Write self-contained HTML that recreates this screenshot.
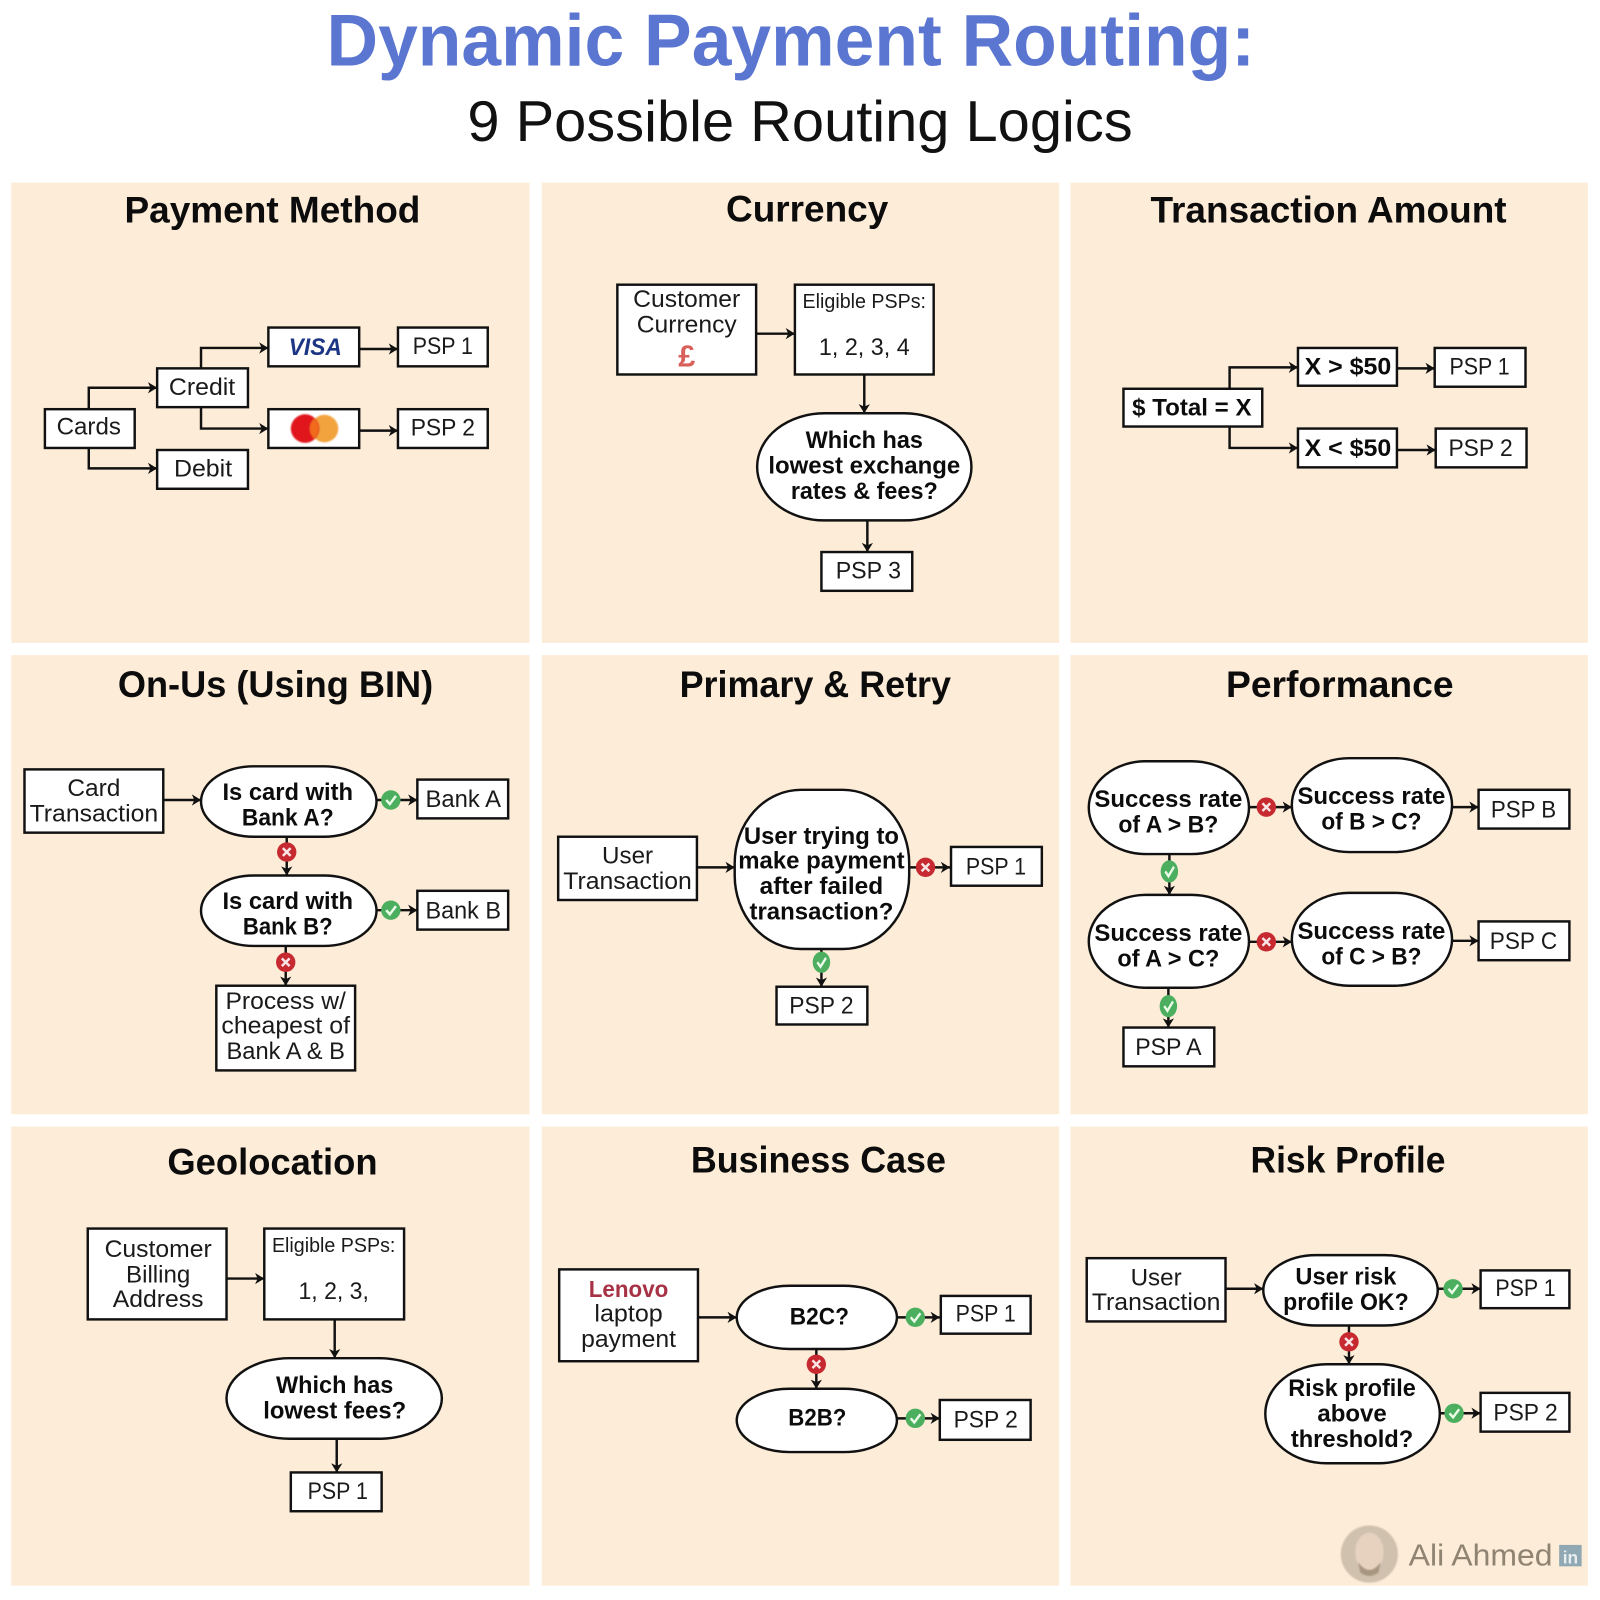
<!DOCTYPE html>
<html lang="en">
<head>
<meta charset="utf-8">
<title>Dynamic Payment Routing</title>
<style>
html,body{margin:0;padding:0;background:#fff;width:1600px;height:1600px;overflow:hidden}
svg{display:block}
text{font-family:"Liberation Sans",sans-serif;text-anchor:middle;fill:#111}
.t{font-size:36px;font-weight:700;fill:#0c0c0c}
.l{font-size:23.5px;fill:#1a1a1a}
.b{font-size:23.5px;font-weight:700;fill:#0c0c0c}
.box rect,.box path.o{fill:#fff;stroke:#111;stroke-width:2.4}
.ln path{fill:none;stroke:#111;stroke-width:2.4;marker-end:url(#a)}
</style>
</head>
<body>
<svg xmlns="http://www.w3.org/2000/svg" width="1600" height="1600" viewBox="0 0 1568 1568">
<defs>
<marker id="a" markerUnits="userSpaceOnUse" markerWidth="12" markerHeight="12" refX="10" refY="6" orient="auto">
<path d="M1 0.5 L10 6 L1 11.5 L3.5 6Z" fill="#111"/>
</marker>
<g id="ok"><ellipse cx="0" cy="0" rx="9.5" ry="9.5" fill="#4caf5f"/><path d="M-4.5 0 L-1 4 L5 -4" fill="none" stroke="#eafbe8" stroke-width="2.4"/></g>
<g id="no"><circle cx="0" cy="0" r="9.5" fill="#c62a30"/><path d="M-3.8 -3.8 L3.8 3.8 M3.8 -3.8 L-3.8 3.8" fill="none" stroke="#fbe4e4" stroke-width="2.4"/></g>
<filter id="s" x="-20%" y="-20%" width="140%" height="140%"><feGaussianBlur stdDeviation="0.7"/></filter>
</defs>

<rect width="1568" height="1568" fill="#fff"/>
<g fill="#fdecd7">
<rect x="11" y="179" width="508" height="451"/><rect x="531" y="179" width="507" height="451"/><rect x="1049" y="179" width="507" height="451"/>
<rect x="11" y="642" width="508" height="450"/><rect x="531" y="642" width="507" height="450"/><rect x="1049" y="642" width="507" height="450"/>
<rect x="11" y="1104" width="508" height="450"/><rect x="531" y="1104" width="507" height="450"/><rect x="1049" y="1104" width="507" height="450"/>
</g>

<text x="775" y="64" font-size="72" font-weight="700" style="fill:#5b76d1" textLength="910" lengthAdjust="spacingAndGlyphs">Dynamic Payment Routing:</text>
<text x="784" y="138" font-size="56" style="fill:#111" textLength="652" lengthAdjust="spacingAndGlyphs">9 Possible Routing Logics</text>

<g class="t-group">
<text class="t" x="267" y="218" textLength="290" lengthAdjust="spacingAndGlyphs">Payment Method</text>
<text class="t" x="791" y="217" textLength="159" lengthAdjust="spacingAndGlyphs">Currency</text>
<text class="t" x="1302" y="218" textLength="349" lengthAdjust="spacingAndGlyphs">Transaction Amount</text>
<text class="t" x="270" y="683" textLength="309" lengthAdjust="spacingAndGlyphs">On-Us (Using BIN)</text>
<text class="t" x="799" y="683" textLength="266" lengthAdjust="spacingAndGlyphs">Primary &amp; Retry</text>
<text class="t" x="1313" y="683" textLength="223" lengthAdjust="spacingAndGlyphs">Performance</text>
<text class="t" x="267" y="1151" textLength="206" lengthAdjust="spacingAndGlyphs">Geolocation</text>
<text class="t" x="802" y="1149" textLength="250" lengthAdjust="spacingAndGlyphs">Business Case</text>
<text class="t" x="1321" y="1149" textLength="191" lengthAdjust="spacingAndGlyphs">Risk Profile</text>
</g>

<!-- connectors -->
<g class="ln">
<path d="M87 401V380H154"/><path d="M87 439V459H154"/><path d="M197 361V341H263"/><path d="M197 399V420H263"/><path d="M352 342H390"/><path d="M352 422H390"/>
<path d="M741 327H779"/><path d="M847 367V405"/><path d="M850 510V541"/>
<path d="M1205 381V360H1272"/><path d="M1205 418V439H1272"/><path d="M1369 361H1406"/><path d="M1369 441H1407"/>
<path d="M160 784H197"/><path d="M369 784H409"/><path d="M369 892H409"/><path d="M281 820V858"/><path d="M280 927V966"/>
<path d="M683 850H720"/><path d="M891 850H931"/><path d="M805 930V967"/>
<path d="M1224 791H1266"/><path d="M1224 923H1266"/><path d="M1146 837V877"/><path d="M1145 968V1007"/><path d="M1423 791H1449"/><path d="M1423 922H1449"/>
<path d="M222 1253H259"/><path d="M328 1293V1331"/><path d="M330 1410V1443"/>
<path d="M684 1291H722"/><path d="M879 1291H921"/><path d="M879 1390H921"/><path d="M800 1322V1361"/>
<path d="M1201 1263H1238"/><path d="M1409 1263H1451"/><path d="M1411 1385H1451"/><path d="M1322 1299V1337"/>
</g>

<!-- boxes -->
<g class="box">
<rect x="44" y="401" width="88" height="38"/><rect x="154" y="361" width="89" height="38"/><rect x="154" y="441" width="89" height="38"/>
<rect x="263" y="321" width="89" height="38"/><rect x="263" y="401" width="89" height="38"/><rect x="390" y="321" width="88" height="38"/><rect x="390" y="401" width="88" height="38"/>
<rect x="605" y="279" width="136" height="88"/><rect x="779" y="279" width="136" height="88"/><rect x="742" y="405" width="210" height="105" rx="66" ry="52.5"/><rect x="805" y="541" width="89" height="38"/>
<rect x="1101" y="381" width="136" height="37"/><rect x="1272" y="341" width="97" height="37"/><rect x="1272" y="420" width="97" height="38"/><rect x="1406" y="341" width="89" height="38"/><rect x="1407" y="420" width="89" height="38"/>
<rect x="24" y="754" width="136" height="62"/><rect x="197" y="751" width="172" height="69" rx="52" ry="34.5"/><rect x="409" y="764" width="89" height="38"/><rect x="197" y="858" width="172" height="69" rx="52" ry="34.5"/><rect x="409" y="873" width="89" height="38"/><rect x="212" y="966" width="136" height="83"/>
<rect x="547" y="820" width="136" height="62"/><rect x="720" y="774" width="171" height="156" rx="65" ry="72"/><rect x="932" y="830" width="89" height="38"/><rect x="761" y="967" width="89" height="37"/>
<rect x="1067" y="746" width="157" height="91" rx="56" ry="45.5"/><rect x="1266" y="743" width="157" height="92" rx="56" ry="46"/><rect x="1067" y="877" width="157" height="91" rx="56" ry="45.5"/><rect x="1266" y="875" width="157" height="91" rx="56" ry="45.5"/>
<rect x="1449" y="774" width="89" height="38"/><rect x="1449" y="903" width="89" height="38"/><rect x="1101" y="1007" width="89" height="38"/>
<rect x="86" y="1204" width="136" height="89"/><rect x="259" y="1204" width="137" height="89"/><rect x="222" y="1331" width="211" height="79" rx="62" ry="39.5"/><rect x="285" y="1443" width="89" height="38"/>
<rect x="548" y="1244" width="136" height="90"/><rect x="722" y="1260" width="157" height="62" rx="52" ry="31"/><rect x="722" y="1361" width="157" height="62" rx="52" ry="31"/><rect x="922" y="1270" width="88" height="37"/><rect x="921" y="1372" width="89" height="39"/>
<rect x="1065" y="1233" width="136" height="62"/><rect x="1238" y="1230" width="171" height="69" rx="52" ry="34.5"/><rect x="1451" y="1245" width="87" height="37"/><rect x="1240" y="1337" width="171" height="97" rx="60" ry="48.5"/><rect x="1451" y="1365" width="87" height="38"/>
</g>

<!-- status icons -->
<use href="#ok" x="383" y="784"/><use href="#ok" x="383" y="892"/><use href="#no" x="281" y="835"/><use href="#no" x="280" y="943"/>
<use href="#no" x="907" y="850"/><use href="#ok" transform="translate(805 943) scale(.9 1.1)"/>
<use href="#no" x="1241" y="791"/><use href="#no" x="1241" y="923"/><use href="#ok" transform="translate(1146 854) scale(.9 1.15)"/><use href="#ok" transform="translate(1145 986) scale(.9 1.15)"/>
<use href="#ok" x="897" y="1291"/><use href="#ok" x="897" y="1390"/><use href="#no" x="800" y="1337"/>
<use href="#ok" x="1424" y="1263"/><use href="#ok" x="1425" y="1385"/><use href="#no" x="1322" y="1315"/>

<!-- logos -->
<text x="309" y="348" font-size="24" font-weight="700" font-style="italic" style="fill:#1c3585" textLength="52" lengthAdjust="spacingAndGlyphs">VISA</text>
<g filter="url(#s)"><circle cx="318" cy="420" r="13.5" fill="#f2a33d"/><circle cx="299" cy="420" r="14" fill="#e0181f"/><path d="M308 410 A14 14 0 0 1 308 430 A13.5 13.5 0 0 1 308 410Z" fill="#f26a1f"/></g>

<!-- labels: panel 1 -->
<text class="l" x="87" y="426" textLength="63" lengthAdjust="spacingAndGlyphs">Cards</text>
<text class="l" x="198" y="387" textLength="65" lengthAdjust="spacingAndGlyphs">Credit</text>
<text class="l" x="199" y="467" textLength="57" lengthAdjust="spacingAndGlyphs">Debit</text>
<text class="l" x="434" y="347" textLength="59" lengthAdjust="spacingAndGlyphs">PSP 1</text>
<text class="l" x="434" y="427" textLength="63" lengthAdjust="spacingAndGlyphs">PSP 2</text>

<!-- panel 2 -->
<text class="l" x="673" y="301" textLength="105" lengthAdjust="spacingAndGlyphs">Customer</text>
<text class="l" x="673" y="326" textLength="98" lengthAdjust="spacingAndGlyphs">Currency</text>
<text x="673" y="359" font-size="30" font-weight="700" style="fill:#d9605a">£</text>
<text x="847" y="302" font-size="20" style="fill:#1a1a1a" textLength="121" lengthAdjust="spacingAndGlyphs">Eligible PSPs:</text>
<text class="l" x="847" y="348" textLength="89" lengthAdjust="spacingAndGlyphs">1, 2, 3, 4</text>
<text class="b" x="847" y="439" textLength="115" lengthAdjust="spacingAndGlyphs">Which has</text>
<text class="b" x="847" y="464" textLength="188" lengthAdjust="spacingAndGlyphs">lowest exchange</text>
<text class="b" x="847" y="489" textLength="144" lengthAdjust="spacingAndGlyphs">rates &amp; fees?</text>
<text class="l" x="851" y="567" textLength="64" lengthAdjust="spacingAndGlyphs">PSP 3</text>

<!-- panel 3 -->
<text class="b" x="1168" y="407" textLength="117" lengthAdjust="spacingAndGlyphs">$ Total = X</text>
<text class="b" x="1321" y="367" textLength="85" lengthAdjust="spacingAndGlyphs">X &gt; $50</text>
<text class="b" x="1321" y="447" textLength="85" lengthAdjust="spacingAndGlyphs">X &lt; $50</text>
<text class="l" x="1450" y="367" textLength="59" lengthAdjust="spacingAndGlyphs">PSP 1</text>
<text class="l" x="1451" y="447" textLength="63" lengthAdjust="spacingAndGlyphs">PSP 2</text>

<!-- panel 4 -->
<text class="l" x="92" y="780" textLength="52" lengthAdjust="spacingAndGlyphs">Card</text>
<text class="l" x="92" y="805" textLength="126" lengthAdjust="spacingAndGlyphs">Transaction</text>
<text class="b" x="282" y="784" textLength="128" lengthAdjust="spacingAndGlyphs">Is card with</text>
<text class="b" x="282" y="809" textLength="90" lengthAdjust="spacingAndGlyphs">Bank A?</text>
<text class="l" x="454" y="791" textLength="74" lengthAdjust="spacingAndGlyphs">Bank A</text>
<text class="b" x="282" y="891" textLength="128" lengthAdjust="spacingAndGlyphs">Is card with</text>
<text class="b" x="282" y="916" textLength="88" lengthAdjust="spacingAndGlyphs">Bank B?</text>
<text class="l" x="454" y="900" textLength="74" lengthAdjust="spacingAndGlyphs">Bank B</text>
<text class="l" x="280" y="989" textLength="118" lengthAdjust="spacingAndGlyphs">Process w/</text>
<text class="l" x="280" y="1013" textLength="126" lengthAdjust="spacingAndGlyphs">cheapest of</text>
<text class="l" x="280" y="1038" textLength="116" lengthAdjust="spacingAndGlyphs">Bank A &amp; B</text>

<!-- panel 5 -->
<text class="l" x="615" y="846" textLength="50" lengthAdjust="spacingAndGlyphs">User</text>
<text class="l" x="615" y="871" textLength="126" lengthAdjust="spacingAndGlyphs">Transaction</text>
<text class="b" x="805" y="827" font-size="24.5" textLength="152" lengthAdjust="spacingAndGlyphs">User trying to</text>
<text class="b" x="805" y="851" textLength="163" lengthAdjust="spacingAndGlyphs">make payment</text>
<text class="b" x="805" y="876" textLength="121" lengthAdjust="spacingAndGlyphs">after failed</text>
<text class="b" x="805" y="901" textLength="141" lengthAdjust="spacingAndGlyphs">transaction?</text>
<text class="l" x="976" y="857" textLength="59" lengthAdjust="spacingAndGlyphs">PSP 1</text>
<text class="l" x="805" y="993" textLength="63" lengthAdjust="spacingAndGlyphs">PSP 2</text>

<!-- panel 6 -->
<text class="b" x="1145" y="791" textLength="145" lengthAdjust="spacingAndGlyphs">Success rate</text>
<text class="b" x="1145" y="816" textLength="98" lengthAdjust="spacingAndGlyphs">of A &gt; B?</text>
<text class="b" x="1344" y="788" textLength="145" lengthAdjust="spacingAndGlyphs">Success rate</text>
<text class="b" x="1344" y="813" textLength="98" lengthAdjust="spacingAndGlyphs">of B &gt; C?</text>
<text class="b" x="1145" y="922" textLength="145" lengthAdjust="spacingAndGlyphs">Success rate</text>
<text class="b" x="1145" y="947" textLength="100" lengthAdjust="spacingAndGlyphs">of A &gt; C?</text>
<text class="b" x="1344" y="920" textLength="145" lengthAdjust="spacingAndGlyphs">Success rate</text>
<text class="b" x="1344" y="945" textLength="98" lengthAdjust="spacingAndGlyphs">of C &gt; B?</text>
<text class="l" x="1493" y="801" textLength="64" lengthAdjust="spacingAndGlyphs">PSP B</text>
<text class="l" x="1493" y="930" textLength="66" lengthAdjust="spacingAndGlyphs">PSP C</text>
<text class="l" x="1145" y="1034" textLength="65" lengthAdjust="spacingAndGlyphs">PSP A</text>

<!-- panel 7 -->
<text class="l" x="155" y="1232" textLength="105" lengthAdjust="spacingAndGlyphs">Customer</text>
<text class="l" x="155" y="1257" textLength="63" lengthAdjust="spacingAndGlyphs">Billing</text>
<text class="l" x="155" y="1281" textLength="89" lengthAdjust="spacingAndGlyphs">Address</text>
<text x="327" y="1227" font-size="20" style="fill:#1a1a1a" textLength="121" lengthAdjust="spacingAndGlyphs">Eligible PSPs:</text>
<text class="l" x="327" y="1273" textLength="69" lengthAdjust="spacingAndGlyphs">1, 2, 3,</text>
<text class="b" x="328" y="1365" textLength="115" lengthAdjust="spacingAndGlyphs">Which has</text>
<text class="b" x="328" y="1390" textLength="140" lengthAdjust="spacingAndGlyphs">lowest fees?</text>
<text class="l" x="331" y="1469" textLength="59" lengthAdjust="spacingAndGlyphs">PSP 1</text>

<!-- panel 8 -->
<text x="616" y="1271" font-size="23" font-weight="700" style="fill:#a83245" textLength="78" lengthAdjust="spacingAndGlyphs">Lenovo</text>
<text class="l" x="616" y="1295" textLength="67" lengthAdjust="spacingAndGlyphs">laptop</text>
<text class="l" x="616" y="1320" textLength="93" lengthAdjust="spacingAndGlyphs">payment</text>
<text class="b" x="803" y="1298" textLength="58" lengthAdjust="spacingAndGlyphs">B2C?</text>
<text class="b" x="801" y="1397" textLength="57" lengthAdjust="spacingAndGlyphs">B2B?</text>
<text class="l" x="966" y="1295" textLength="59" lengthAdjust="spacingAndGlyphs">PSP 1</text>
<text class="l" x="966" y="1399" textLength="63" lengthAdjust="spacingAndGlyphs">PSP 2</text>

<!-- panel 9 -->
<text class="l" x="1133" y="1260" textLength="50" lengthAdjust="spacingAndGlyphs">User</text>
<text class="l" x="1133" y="1284" textLength="126" lengthAdjust="spacingAndGlyphs">Transaction</text>
<text class="b" x="1319" y="1259" textLength="99" lengthAdjust="spacingAndGlyphs">User risk</text>
<text class="b" x="1319" y="1284" textLength="123" lengthAdjust="spacingAndGlyphs">profile OK?</text>
<text class="l" x="1495" y="1270" textLength="59" lengthAdjust="spacingAndGlyphs">PSP 1</text>
<text class="b" x="1325" y="1368" textLength="125" lengthAdjust="spacingAndGlyphs">Risk profile</text>
<text class="b" x="1325" y="1393" textLength="68" lengthAdjust="spacingAndGlyphs">above</text>
<text class="b" x="1325" y="1418" textLength="120" lengthAdjust="spacingAndGlyphs">threshold?</text>
<text class="l" x="1495" y="1392" textLength="63" lengthAdjust="spacingAndGlyphs">PSP 2</text>

<!-- watermark -->
<g filter="url(#s)">
<circle cx="1342" cy="1523" r="28" fill="#cfc1ae"/>
<ellipse cx="1342" cy="1521" rx="14" ry="19" fill="#e6d2bf"/>
<path d="M1331 1531 Q1342 1546 1353 1531 L1351 1541 Q1342 1548 1333 1541Z" fill="#a89680"/>
</g>
<text x="1451" y="1534" font-size="30" style="fill:#8f8371" textLength="141" lengthAdjust="spacingAndGlyphs">Ali Ahmed</text>
<rect x="1528" y="1514" width="22" height="21" fill="#8fa8b3"/>
<text x="1539" y="1532" font-size="17" font-weight="700" style="fill:#e8eef0">in</text>
</svg>
</body>
</html>
